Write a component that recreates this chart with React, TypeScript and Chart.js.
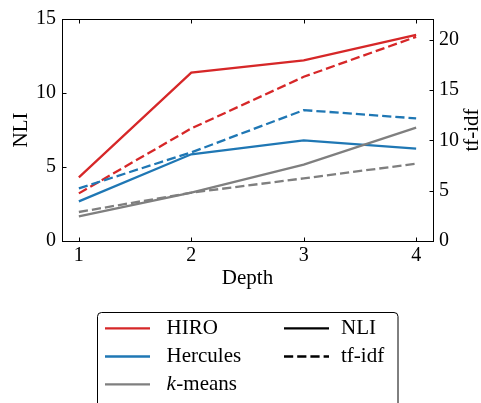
import React, { useEffect, useRef } from "react";
import { Chart, registerables } from "chart.js";

Chart.register(...registerables);

const depths = [1, 2, 3, 4];
const hiroNLI = [4.3, 11.37, 12.21, 13.92];
const herculesNLI = [2.68, 5.86, 6.8, 6.24];
const kmeansNLI = [1.67, 3.27, 5.16, 7.66];
const hiroTfidf = [4.73, 11.18, 16.31, 20.28];
const herculesTfidf = [5.23, 8.8, 13.0, 12.18];
const kmeansTfidf = [2.88, 4.8, 6.22, 7.68];
const nliTicks = [0, 5, 10, 15];
const tfidfTicks = [0, 5, 10, 15, 20];

const RED = "#d62728";
const BLUE = "#1f77b4";
const GRAY = "#7f7f7f";
const FONT = "'Liberation Serif', 'Times New Roman', serif";
const DASH = [9.2, 4];
const LW = 2.3;

const pts = (ys: number[]) => depths.map((x, i) => ({ x, y: ys[i] }));

const decorPlugin = {
  id: "decor",
  afterDraw(chart: any) {
    const { ctx, chartArea } = chart;
    const { left, right, top, bottom } = chartArea;
    const xs = chart.scales.x;
    const yl = chart.scales.y;
    const yr = chart.scales.y2;
    ctx.save();
    // frame
    ctx.strokeStyle = "#000";
    ctx.lineWidth = 1;
    ctx.strokeRect(left + 0.5, top + 0.5, right - left, bottom - top);
    // inward ticks
    ctx.beginPath();
    const tl = 4;
    depths.forEach((d) => {
      const px = Math.round(xs.getPixelForValue(d)) + 0.5;
      ctx.moveTo(px, bottom + 0.5);
      ctx.lineTo(px, bottom + 0.5 - tl);
      ctx.moveTo(px, top + 0.5);
      ctx.lineTo(px, top + 0.5 + tl);
    });
    nliTicks.forEach((v) => {
      const py = Math.round(yl.getPixelForValue(v)) + 0.5;
      ctx.moveTo(left + 0.5, py);
      ctx.lineTo(left + 0.5 + tl, py);
    });
    tfidfTicks.forEach((v) => {
      const py = Math.round(yr.getPixelForValue(v)) + 0.5;
      ctx.moveTo(right + 0.5, py);
      ctx.lineTo(right + 0.5 - tl, py);
    });
    ctx.stroke();

    // axis titles
    ctx.fillStyle = "#000";
    ctx.textAlign = "center";
    ctx.textBaseline = "middle";
    ctx.font = `21px ${FONT}`;
    ctx.fillText("Depth", (left + right) / 2, 278);
    const midY = (top + bottom) / 2;
    ctx.save();
    ctx.translate(21, midY);
    ctx.rotate(-Math.PI / 2);
    ctx.fillText("NLI", 0, 0);
    ctx.restore();
    ctx.save();
    ctx.translate(472, midY);
    ctx.rotate(-Math.PI / 2);
    ctx.fillText("tf-idf", 0, 0);
    ctx.restore();

    // legend
    const bx = 97.5, by = 312.5, bw = 300.5, bh = 110, r = 4;
    ctx.beginPath();
    ctx.moveTo(bx + r, by);
    ctx.lineTo(bx + bw - r, by);
    ctx.arcTo(bx + bw, by, bx + bw, by + r, r);
    ctx.lineTo(bx + bw, by + bh);
    ctx.lineTo(bx, by + bh);
    ctx.lineTo(bx, by + r);
    ctx.arcTo(bx, by, bx + r, by, r);
    ctx.closePath();
    ctx.fillStyle = "rgba(255,255,255,0.9)";
    ctx.fill();
    ctx.strokeStyle = "#000";
    ctx.lineWidth = 1;
    ctx.stroke();

    const rows = [328.3, 356.5, 384.3];
    const col1 = [
      { label: "HIRO", color: RED },
      { label: "Hercules", color: BLUE },
      { label: "k-means", color: GRAY },
    ];
    ctx.textAlign = "left";
    ctx.textBaseline = "middle";
    col1.forEach((it, i) => {
      ctx.beginPath();
      ctx.strokeStyle = it.color;
      ctx.lineWidth = LW;
      ctx.setLineDash([]);
      ctx.moveTo(105, rows[i]);
      ctx.lineTo(150, rows[i]);
      ctx.stroke();
      ctx.fillStyle = "#000";
      if (it.label === "k-means") {
        ctx.font = `italic 21px ${FONT}`;
        ctx.fillText("k", 166.5, rows[i]);
        const w = ctx.measureText("k").width;
        ctx.font = `21px ${FONT}`;
        ctx.fillText("-means", 166.5 + w + 0.5, rows[i]);
      } else {
        ctx.font = `21px ${FONT}`;
        ctx.fillText(it.label, 166.5, rows[i]);
      }
    });
    const col2 = [
      { label: "NLI", dash: [] as number[] },
      { label: "tf-idf", dash: DASH },
    ];
    col2.forEach((it, i) => {
      ctx.beginPath();
      ctx.strokeStyle = "#000";
      ctx.lineWidth = LW;
      ctx.setLineDash(it.dash);
      ctx.moveTo(284, rows[i]);
      ctx.lineTo(329, rows[i]);
      ctx.stroke();
      ctx.setLineDash([]);
      ctx.fillStyle = "#000";
      ctx.font = `21px ${FONT}`;
      ctx.fillText(it.label, 341, rows[i]);
    });
    ctx.restore();
  },
};

export default function App() {
  const ref = useRef<HTMLCanvasElement | null>(null);
  useEffect(() => {
    if (!ref.current) return;
    const line = (data: number[], color: string, axis: string, dashed: boolean) => ({
      data: pts(data),
      borderColor: color,
      backgroundColor: color,
      borderWidth: LW,
      borderDash: dashed ? DASH : [],
      pointRadius: 0,
      fill: false,
      tension: 0,
      yAxisID: axis,
    });
    const tickFont = { family: FONT, size: 20 };
    const chart = new Chart(ref.current, {
      type: "line",
      data: {
        datasets: [
          line(kmeansTfidf, GRAY, "y2", true),
          line(herculesTfidf, BLUE, "y2", true),
          line(hiroTfidf, RED, "y2", true),
          line(kmeansNLI, GRAY, "y", false),
          line(herculesNLI, BLUE, "y", false),
          line(hiroNLI, RED, "y", false),
        ],
      },
      options: {
        animation: false,
        responsive: false,
        devicePixelRatio: 1,
        layout: { padding: { top: 19, left: 0, right: 0, bottom: 132 } },
        plugins: { legend: { display: false }, tooltip: { enabled: false } },
        scales: {
          x: {
            type: "linear",
            min: 0.85,
            max: 4.15,
            grid: { display: false, drawTicks: false },
            border: { display: false },
            ticks: { font: tickFont, color: "#000", padding: 3 },
            afterBuildTicks: (s: any) => {
              s.ticks = depths.map((v) => ({ value: v }));
            },
            afterFit: (s: any) => {
              s.height = 30;
            },
          },
          y: {
            type: "linear",
            position: "left",
            min: 0,
            max: 15,
            grid: { display: false, drawTicks: false },
            border: { display: false },
            ticks: { font: tickFont, color: "#000", padding: 6 },
            afterBuildTicks: (s: any) => {
              s.ticks = nliTicks.map((v) => ({ value: v }));
            },
            afterFit: (s: any) => {
              s.width = 62;
            },
          },
          y2: {
            type: "linear",
            position: "right",
            min: 0,
            max: 22.05,
            grid: { display: false, drawTicks: false },
            border: { display: false },
            ticks: { font: tickFont, color: "#000", padding: 6 },
            afterBuildTicks: (s: any) => {
              s.ticks = tfidfTicks.map((v) => ({ value: v }));
            },
            afterFit: (s: any) => {
              s.width = 48;
            },
          },
        },
      },
      plugins: [decorPlugin],
    });
    return () => chart.destroy();
  }, []);
  return (
    <div style={{ position: "fixed", left: 0, top: 0, width: 481, height: 403, background: "#fff" }}>
      <canvas ref={ref} width={481} height={403} />
    </div>
  );
}
